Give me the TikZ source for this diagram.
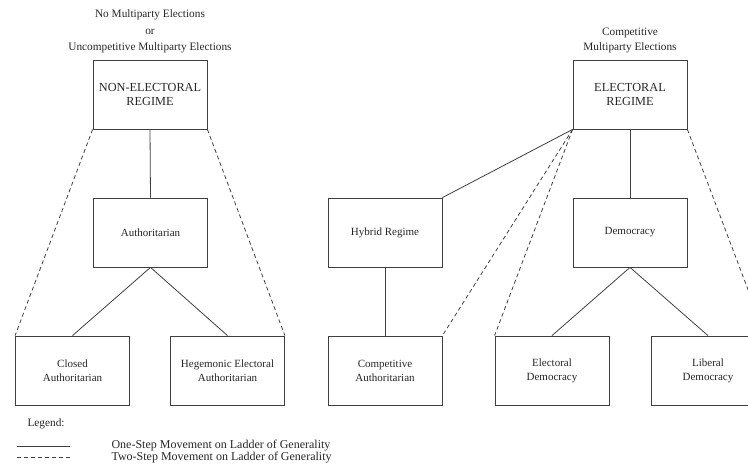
\documentclass[tikz,border=0pt]{standalone}
\usepackage{fontspec}
\setmainfont{Liberation Serif}
\begin{document}
\begin{tikzpicture}[x=1pt, y=-1pt, font=\fontsize{11}{14}\selectfont, text=black!85,
    regime/.style={draw=black!75, line width=0.8pt, minimum width=114pt, minimum height=69pt, align=center, inner sep=0pt},
    onestep/.style={draw=black!75, line width=0.8pt},
    twostep/.style={draw=black!75, line width=0.8pt, dash pattern=on 4pt off 3pt}]
    \useasboundingbox (0,0) rectangle (748,472);
    % top level
    \node[regime, font=\fontsize{12.3}{14}\selectfont] (nonel) at (150, 94.5) {NON-ELECTORAL\\REGIME};
    \node[regime, font=\fontsize{12.3}{14}\selectfont] (el) at (630, 94.5) {ELECTORAL\\REGIME};
    \node[align=center, font=\fontsize{11.3}{16.5}\selectfont] (noncap) at (150, 31.5) {No Multiparty Elections\\or\\Uncompetitive Multiparty Elections};
    \node[align=center, font=\fontsize{11.3}{15}\selectfont] (elcap) at (630, 40.5) {Competitive\\Multiparty Elections};
    % middle level
    \node[regime] (auth) at (150.5, 232.5) {Authoritarian};
    \node[regime] (hybrid) at (385, 232.5) {Hybrid Regime};
    \node[regime] (dem) at (630, 232.5) {Democracy};
    % bottom level
    \node[regime] (closed) at (72.5, 370.5) {Closed\\Authoritarian};
    \node[regime] (hegem) at (227.5, 370.5) {Hegemonic Electoral\\Authoritarian};
    \node[regime] (compet) at (385, 370.5) {Competitive\\Authoritarian};
    \node[regime] (eldem) at (552, 370.5) {Electoral\\Democracy};
    \node[regime] (libdem) at (708, 370.5) {Liberal\\Democracy};
    % one-step links
    \draw[onestep] (nonel.south) -- (auth.north);
    \draw[onestep] (auth.south) -- (closed.north);
    \draw[onestep] (auth.south) -- (hegem.north);
    \draw[onestep] (el.south west) -- (hybrid.north east);
    \draw[onestep] (hybrid.south) -- (compet.north);
    \draw[onestep] (el.south) -- (dem.north);
    \draw[onestep] (dem.south) -- (eldem.north);
    \draw[onestep] (dem.south) -- (libdem.north);
    % two-step links
    \draw[twostep] (nonel.south west) -- (closed.north west);
    \draw[twostep] (nonel.south east) -- (hegem.north east);
    \draw[twostep] (el.south west) -- (compet.north east);
    \draw[twostep] (el.south west) -- (eldem.north west);
    \draw[twostep] (el.south east) -- (libdem.north east);
    % legend
    \node[anchor=west, font=\fontsize{11.3}{12}\selectfont] (legend) at (24, 424) {Legend:};
    \coordinate (onea) at (17, 446.5);
    \coordinate (oneb) at (70, 446.5);
    \coordinate (twoa) at (17, 457.5);
    \coordinate (twob) at (70, 457.5);
    \draw[onestep] (onea) -- (oneb);
    \draw[twostep] (twoa) -- (twob);
    \node[anchor=west, font=\fontsize{12}{12}\selectfont] (onetxt) at (108, 446) {One-Step Movement on Ladder of Generality};
    \node[anchor=west, font=\fontsize{12}{12}\selectfont] (twotxt) at (108, 458) {Two-Step Movement on Ladder of Generality};
\end{tikzpicture}
\end{document}
